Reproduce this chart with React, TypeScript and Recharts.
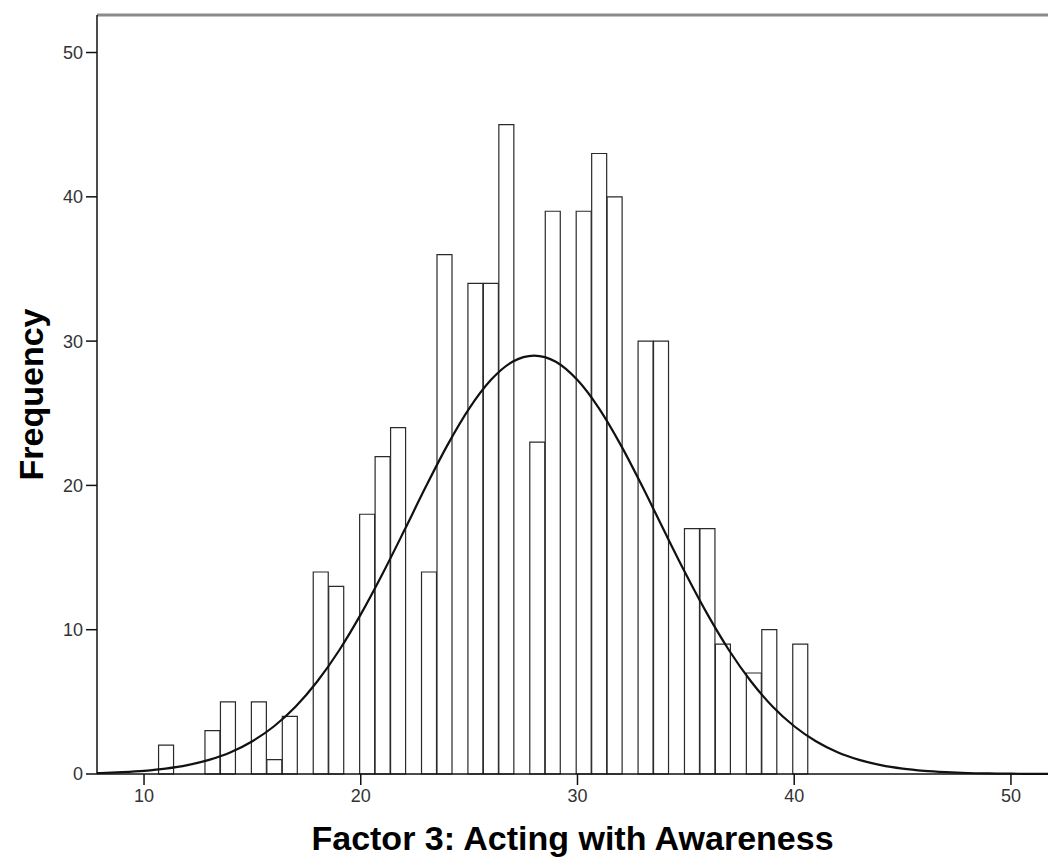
import React from "react";
import { ComposedChart, Bar, Line, XAxis, YAxis, ReferenceLine } from "recharts";

// histogram bins (bin midpoints on the score scale) and their frequencies
const binMids = [
  11.027, 11.741, 12.454, 13.168, 13.882, 14.596, 15.309, 16.023, 16.737, 17.45,
  18.164, 18.878, 19.591, 20.305, 21.019, 21.733, 22.446, 23.16, 23.874, 24.587,
  25.301, 26.015, 26.728, 27.442, 28.156, 28.87, 29.583, 30.297, 31.011, 31.724,
  32.438, 33.152, 33.865, 34.579, 35.293, 36.007, 36.72, 37.434, 38.148, 38.861,
  39.575, 40.289,
];
const binCounts = [
  2, 0, 0, 3, 5, 0, 5, 1, 4, 0,
  14, 13, 0, 18, 22, 24, 0, 14, 36, 0,
  34, 34, 45, 0, 23, 39, 0, 39, 43, 40,
  0, 30, 30, 0, 17, 17, 9, 0, 7, 10,
  0, 9,
];

// normal curve at whole scores
const curveX = [
  7, 8, 9, 10, 11, 12, 13, 14, 15, 16, 17, 18, 19, 20, 21, 22, 23, 24, 25, 26, 27, 28, 29,
  30, 31, 32, 33, 34, 35, 36, 37, 38, 39, 40, 41, 42, 43, 44, 45, 46, 47, 48, 49, 50, 51, 52,
];
const curveY = [
  0.04, 0.07, 0.13, 0.22, 0.37, 0.61, 0.98, 1.51, 2.27, 3.31, 4.68, 6.43, 8.56, 11.06,
  13.86, 16.85, 19.9, 22.79, 25.32, 27.3, 28.57, 29.0, 28.57, 27.3, 25.32, 22.79, 19.9,
  16.85, 13.86, 11.06, 8.56, 6.43, 4.68, 3.31, 2.27, 1.51, 0.98, 0.61, 0.37, 0.22, 0.13,
  0.07, 0.04, 0.02, 0.01, 0.005,
];

const xTicks = [10, 20, 30, 40, 50];
const yTicks = [0, 10, 20, 30, 40, 50];

const X_DOMAIN: [number, number] = [7.83, 51.71];
const Y_DOMAIN: [number, number] = [0, 52.6];

const binData = binMids.map((x, i) => ({ x, count: binCounts[i] }));
const curveData = curveX.map((x, i) => ({ x, y: curveY[i] }));

const FONT = "'Liberation Sans', Arial, sans-serif";
const tickStyle = { fill: "#333", fontSize: 18, fontFamily: FONT };

function YTitle(props: any) {
  const vb = props.viewBox || { y: 15, height: 759 };
  const cx = 31;
  const cy = vb.y + vb.height / 2;
  return (
    <text
      x={cx}
      y={cy}
      transform={`rotate(-90 ${cx} ${cy})`}
      textAnchor="middle"
      dominantBaseline="central"
      fontFamily={FONT}
      fontWeight="bold"
      fontSize={34}
      fill="#000"
    >
      Frequency
    </text>
  );
}

function XTitle(props: any) {
  const vb = props.viewBox || { x: 97, width: 951 };
  return (
    <text
      x={vb.x + vb.width / 2}
      y={850}
      textAnchor="middle"
      fontFamily={FONT}
      fontWeight="bold"
      fontSize={34}
      fill="#000"
    >
      Factor 3: Acting with Awareness
    </text>
  );
}

export default function App() {
  return (
    <div style={{ position: "absolute", left: 0, top: 0, background: "#fff" }}>
      <ComposedChart
        width={1048}
        height={865}
        data={binData}
        margin={{ top: 15, right: 0, bottom: 0, left: 0 }}
        barCategoryGap={0}
        barGap={0}
      >
        <XAxis
          xAxisId="bins"
          type="number"
          dataKey="x"
          domain={X_DOMAIN}
          allowDataOverflow
          ticks={xTicks}
          height={91}
          tickSize={11}
          tickMargin={4}
          tick={tickStyle}
          tickLine={{ stroke: "#111", strokeWidth: 1.5 }}
          axisLine={{ stroke: "#111", strokeWidth: 1.5 }}
          label={{ content: XTitle }}
        />
        <XAxis
          xAxisId="curve"
          type="number"
          dataKey="x"
          domain={X_DOMAIN}
          allowDataOverflow
          hide
        />
        <YAxis
          type="number"
          domain={Y_DOMAIN}
          ticks={yTicks}
          width={97}
          tickSize={11}
          tickMargin={3}
          tick={tickStyle}
          tickLine={{ stroke: "#111", strokeWidth: 1.5 }}
          axisLine={{ stroke: "#111", strokeWidth: 1.5 }}
          label={{ content: YTitle }}
        />
        {/* grey frame line along the top of the plot area */}
        <ReferenceLine
          xAxisId="bins"
          y={Y_DOMAIN[1]}
          stroke="#8a8a8a"
          strokeWidth={3}
          ifOverflow="visible"
        />
        <Bar
          xAxisId="bins"
          dataKey="count"
          fill="#fff"
          stroke="#2a2a2a"
          strokeWidth={1.2}
          isAnimationActive={false}
        />
        <Line
          xAxisId="curve"
          data={curveData}
          dataKey="y"
          type="monotone"
          stroke="#111"
          strokeWidth={2.2}
          dot={false}
          activeDot={false}
          isAnimationActive={false}
        />
      </ComposedChart>
    </div>
  );
}
